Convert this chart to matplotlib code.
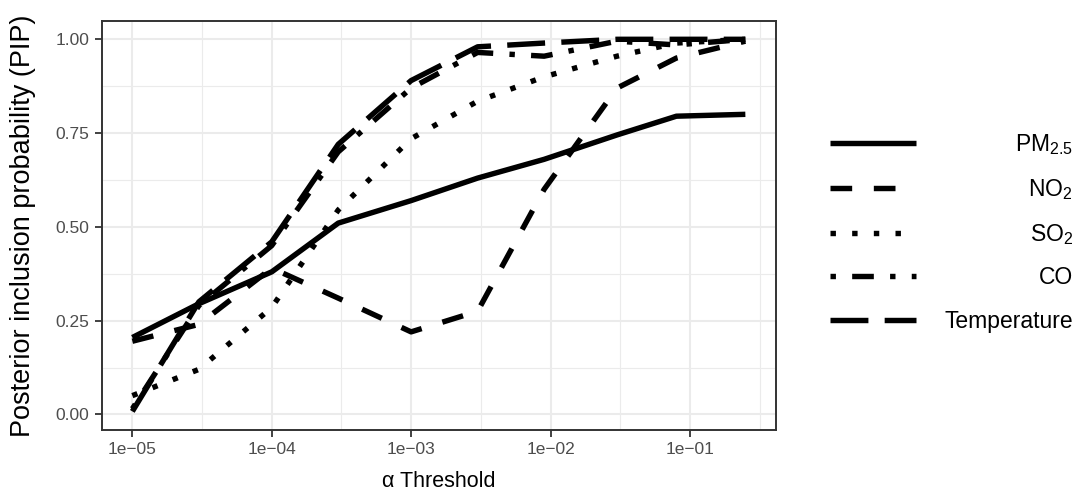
#!/usr/bin/env python3
"""
Posterior inclusion probability (PIP) of each exposure against the alpha threshold.
Recreated as a static matplotlib figure, saved to out.png.
"""

import matplotlib

matplotlib.use("Agg")
import matplotlib.pyplot as plt
from matplotlib.lines import Line2D
import numpy as np

# ---- data ----
alpha_thresholds = [1e-05, 3e-05, 1e-04, 3e-04, 1e-03, 3e-03, 9e-03, 3e-02, 8e-02, 0.25]

pm25 = [0.205, 0.295, 0.38, 0.51, 0.57, 0.63, 0.68, 0.745, 0.795, 0.80]
no2 = [0.195, 0.24, 0.39, 0.31, 0.22, 0.275, 0.60, 0.87, 0.95, 0.995]
so2 = [0.05, 0.12, 0.285, 0.545, 0.735, 0.835, 0.90, 0.955, 0.99, 1.0]
co = [0.015, 0.29, 0.45, 0.70, 0.87, 0.965, 0.955, 0.995, 0.985, 1.0]
temperature = [0.008, 0.30, 0.46, 0.72, 0.89, 0.98, 0.99, 1.0, 1.0, 1.0]

series_labels = ["PM$_{2.5}$", "NO$_2$", "SO$_2$", "CO", "Temperature"]
x_tick_values = [1e-05, 1e-04, 1e-03, 1e-02, 1e-01]
x_tick_labels = ["1e\u221205", "1e\u221204", "1e\u221203", "1e\u221202", "1e\u221201"]
y_tick_values = [0.0, 0.25, 0.5, 0.75, 1.0]
y_tick_labels = ["0.00", "0.25", "0.50", "0.75", "1.00"]

# ggplot-like linetypes (units of linewidth): solid, dashed, dotted, dotdash, longdash
LINESTYLES = ["-", (0, (4, 4)), (0, (1, 3)), (0, (1, 3, 4, 3)), (0, (7, 3))]

W, H = 1078, 500
LW = 3.9
GRID = "#EBEBEB"
DARK = "#333333"


def px(x0, y0, x1, y1):
    """Pixel box (from top-left) -> figure fraction rect."""
    return [x0 / W, 1 - y1 / H, (x1 - x0) / W, (y1 - y0) / H]


def main():
    plt.rcParams["font.family"] = ["Liberation Sans", "DejaVu Sans"]
    plt.rcParams["mathtext.fontset"] = "custom"
    plt.rcParams["mathtext.rm"] = "Liberation Sans"
    plt.rcParams["mathtext.it"] = "Liberation Sans"

    fig = plt.figure(figsize=(W / 100, H / 100), dpi=100)
    ax = fig.add_axes(px(101.7, 20.7, 776, 430))

    all_series = [pm25, no2, so2, co, temperature]
    for vals, ls in zip(all_series, LINESTYLES):
        ax.plot(
            alpha_thresholds,
            vals,
            color="black",
            lw=LW,
            linestyle=ls,
            solid_capstyle="butt",
            dash_capstyle="butt",
            zorder=3,
        )

    ax.set_xscale("log")
    ax.set_xticks(x_tick_values)
    ax.set_xticklabels(x_tick_labels)
    ax.set_xticks([10 ** (k + 0.5) for k in range(-6, 0)], minor=True)
    ax.set_xticklabels([], minor=True)
    ax.set_yticks(y_tick_values)
    ax.set_yticklabels(y_tick_labels)
    ax.set_yticks([0.125, 0.375, 0.625, 0.875], minor=True)

    # limits with ggplot's 5% expansion (set after ticks so they stick)
    lx = np.log10(alpha_thresholds)
    span = lx.max() - lx.min()
    ax.set_xlim(10 ** (lx.min() - 0.05 * span), 10 ** (lx.max() + 0.05 * span))
    ymin = min(min(s) for s in all_series)
    ymax = max(max(s) for s in all_series)
    yspan = ymax - ymin
    ax.set_ylim(ymin - 0.05 * yspan, ymax + 0.05 * yspan)

    ax.grid(which="major", color=GRID, lw=1.5, zorder=0)
    ax.grid(which="minor", color=GRID, lw=0.8, zorder=0)
    ax.set_axisbelow(True)

    ax.tick_params(which="major", length=4.8, width=1.3, color=DARK,
                   labelcolor="#4D4D4D", labelsize=12.5, pad=4)
    ax.tick_params(which="minor", length=0)
    for sp in ax.spines.values():
        sp.set_color(DARK)
        sp.set_linewidth(1.4)

    ax.set_xlabel("\u03b1 Threshold", fontsize=15.5, labelpad=10)
    ax.set_ylabel("Posterior inclusion probability (PIP)", fontsize=19.5, labelpad=14)

    # legend drawn by hand so labels can be right-aligned like ggplot's
    key_rows = [143, 188, 233, 276, 320]
    fs = 16.5
    for label, ls, ky in zip(series_labels, LINESTYLES, key_rows):
        fig.add_artist(
            Line2D([830 / W, 916 / W], [1 - ky / H] * 2, transform=fig.transFigure,
                   color="black", lw=LW, linestyle=ls,
                   solid_capstyle="butt", dash_capstyle="butt")
        )
        base = ky + 0.358 * fs * 100 / 72
        fig.text(1073 / W, 1 - base / H, label, ha="right", va="baseline", fontsize=fs)

    fig.savefig("out.png", dpi=100)


if __name__ == "__main__":
    main()
